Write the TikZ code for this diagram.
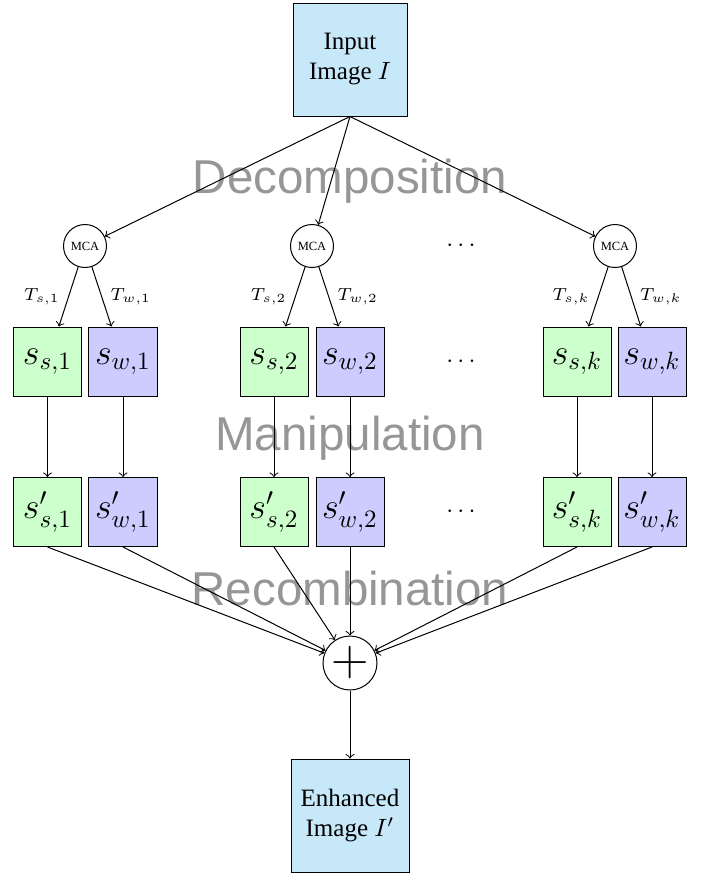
\documentclass[tikz,border=0pt]{standalone}
\usepackage{fontspec}
\setmainfont{Liberation Serif}
\setsansfont{Liberation Sans}
\definecolor{imgcol}{RGB}{198,232,248}
\definecolor{scol}{RGB}{204,255,204}
\definecolor{wcol}{RGB}{204,204,255}
\definecolor{stagegray}{RGB}{150,150,150}
\begin{document}
\begin{tikzpicture}[x=0.4pt,y=-0.4pt,
  imgbox/.style={draw, fill=imgcol, align=center, minimum height=45.2pt, inner sep=0pt},
  sbox/.style={draw, fill=scol, minimum width=27.2pt, minimum height=27.6pt, inner sep=0pt, font=\Large},
  wbox/.style={sbox, fill=wcol},
  mcanode/.style={circle, draw, minimum size=17.2pt, inner sep=0pt, font=\tiny},
  sumnode/.style={circle, draw, minimum size=21.6pt, inner sep=0pt, font=\huge},
  stage/.style={font=\sffamily\fontsize{19}{22}\selectfont, text=stagegray, anchor=base, inner sep=0pt},
  tlabel/.style={font=\scriptsize},
  conn/.style={->}]
\useasboundingbox (0,0) rectangle (702,875);

% stage captions (behind the connectors)
\node[stage] (dec) at (350,193) {Decomposition};
\node[stage] (man) at (350,450) {Manipulation};
\node[stage] (rec) at (350,605) {Recombination};

% input and output images
\node[imgbox, minimum width=45.6pt] (in) at (350,59.5) {Input\\Image $I$};
\node[imgbox, minimum width=47.2pt] (out) at (350,815.5) {Enhanced\\Image $I'$};

% MCA decompositions
\node[mcanode] (m1) at (85,246) {MCA};
\node[mcanode] (m2) at (312,246) {MCA};
\node[mcanode] (mk) at (615,246) {MCA};

% components
\node[sbox] (s1) at (47.5,361.5) {$s_{s,1}$};
\node[wbox] (w1) at (123,361.5) {$s_{w,1}$};
\node[sbox] (s2) at (274,361.5) {$s_{s,2}$};
\node[wbox] (w2) at (350,361.5) {$s_{w,2}$};
\node[sbox] (sk) at (577,361.5) {$s_{s,k}$};
\node[wbox] (wk) at (652,361.5) {$s_{w,k}$};

% manipulated components
\node[sbox] (ps1) at (47.5,512) {$s'_{s,1}$};
\node[wbox] (pw1) at (123,512) {$s'_{w,1}$};
\node[sbox] (ps2) at (274,512) {$s'_{s,2}$};
\node[wbox] (pw2) at (350,512) {$s'_{w,2}$};
\node[sbox] (psk) at (577,512) {$s'_{s,k}$};
\node[wbox] (pwk) at (652,512) {$s'_{w,k}$};

% ellipses
\node (d1) at (461,246) {$\cdots$};
\node (d2) at (461,361.5) {$\cdots$};
\node (d3) at (461,512) {$\cdots$};

% recombination
\node[sumnode] (sum) at (350,663) {$+$};

% connectors
\foreach \m in {m1,m2,mk}
  \draw[conn] (in.south) -- (\m);
\foreach \m/\s/\w/\i in {m1/s1/w1/1, m2/s2/w2/2, mk/sk/wk/k} {
  \draw[conn] (\m) -- (\s) node[tlabel, midway, left] {$T_{s,\i}$};
  \draw[conn] (\m) -- (\w) node[tlabel, midway, right] {$T_{w,\i}$};
}
\foreach \a/\b in {s1/ps1, w1/pw1, s2/ps2, w2/pw2, sk/psk, wk/pwk} {
  \draw[conn] (\a) -- (\b);
  \draw[conn] (\b.south) -- (sum);
}
\draw[conn] (sum) -- (out);
\end{tikzpicture}
\end{document}
